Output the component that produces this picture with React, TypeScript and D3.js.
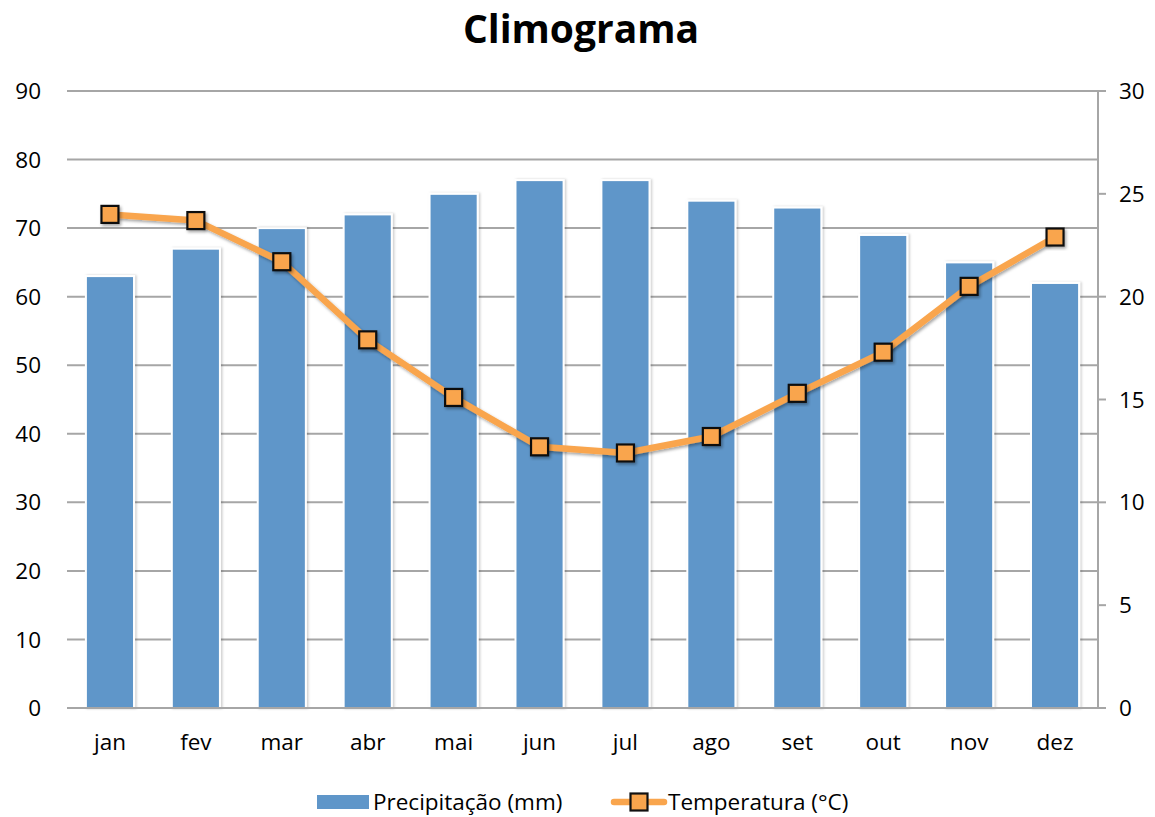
import { scaleBand, scaleLinear, line } from 'd3'

const months = ['jan', 'fev', 'mar', 'abr', 'mai', 'jun', 'jul', 'ago', 'set', 'out', 'nov', 'dez']
const precipitation = [63, 67, 70, 72, 75, 77, 77, 74, 73, 69, 65, 62]
const temperature = [24.0, 23.7, 21.7, 17.9, 15.1, 12.7, 12.4, 13.2, 15.3, 17.3, 20.5, 22.9]
const leftTicks = [0, 10, 20, 30, 40, 50, 60, 70, 80, 90]
const rightTicks = [0, 5, 10, 15, 20, 25, 30]

const W = 1155
const H = 817
const margin = { top: 91, right: 57, bottom: 109, left: 67 }
const font = '"Open Sans", sans-serif'

export default function App() {
  const innerW = W - margin.left - margin.right
  const innerH = H - margin.top - margin.bottom
  const x = scaleBand<string>().domain(months).range([0, innerW]).paddingInner(0.44).paddingOuter(0.22)
  const yL = scaleLinear().domain([0, 90]).range([innerH, 0])
  const yR = scaleLinear().domain([0, 30]).range([innerH, 0])
  const cx = (m: string) => (x(m) ?? 0) + x.bandwidth() / 2
  const pts = months.map((m, i) => [cx(m), yR(temperature[i])] as [number, number])
  const path = line()(pts) ?? ''

  return (
    <svg width={W} height={H} style={{ position: 'absolute', left: 0, top: 0, background: '#fff' }}>
      <defs>
        <filter id="sh" x="-30%" y="-30%" width="160%" height="160%">
          <feDropShadow dx="1.5" dy="2" stdDeviation="1.5" floodColor="#000" floodOpacity="0.35" />
        </filter>
        <filter id="bsh" x="-10%" y="-5%" width="120%" height="110%">
          <feDropShadow dx="1.5" dy="0" stdDeviation="1.2" floodColor="#000" floodOpacity="0.2" />
        </filter>
      </defs>
      <text x={581} y={43} textAnchor="middle" fontFamily={font} fontWeight="bold" fontSize={39} fill="#000">
        Climograma
      </text>
      <g transform={`translate(${margin.left},${margin.top})`}>
        {leftTicks.map((t) => (
          <g key={t}>
            <line x1={0} x2={innerW} y1={yL(t)} y2={yL(t)} stroke="#a6a6a6" strokeWidth={2} />
            <text x={-26} y={yL(t)} dy="0.36em" textAnchor="end" fontFamily={font} fontSize={22.5}>
              {t}
            </text>
          </g>
        ))}
        <line x1={innerW} x2={innerW} y1={0} y2={innerH} stroke="#a6a6a6" strokeWidth={2} />
        {rightTicks.map((t) => (
          <g key={t}>
            <line x1={innerW} x2={innerW + 8} y1={yR(t)} y2={yR(t)} stroke="#a6a6a6" strokeWidth={2} />
            <text x={innerW + 21} y={yR(t)} dy="0.36em" textAnchor="start" fontFamily={font} fontSize={22.5}>
              {t}
            </text>
          </g>
        ))}
        {months.map((m, i) => (
          <rect
            key={m}
            x={x(m)}
            y={yL(precipitation[i])}
            width={x.bandwidth()}
            height={innerH - yL(precipitation[i])}
            fill="#5f96c9"
            stroke="#fff"
            strokeWidth={2}
            filter="url(#bsh)"
          />
        ))}
        <line x1={0} x2={innerW} y1={innerH} y2={innerH} stroke="#a6a6a6" strokeWidth={2} />
        {months.map((m) => (
          <text key={m} x={cx(m)} y={innerH + 42} textAnchor="middle" fontFamily={font} fontSize={22.5}>
            {m}
          </text>
        ))}
        <path d={path} fill="none" stroke="#f9a54d" strokeWidth={6.5} strokeLinejoin="round" filter="url(#sh)" />
        {pts.map(([px, py], i) => (
          <rect
            key={i}
            x={px - 8.5}
            y={py - 8.5}
            width={17}
            height={17}
            fill="#f9a54d"
            stroke="#111"
            strokeWidth={2.2}
            filter="url(#sh)"
          />
        ))}
      </g>
      <g transform="translate(317,802)">
        <rect x={0} y={-7} width={52} height={14} fill="#5f96c9" />
        <text x={56} y={0} dy="0.36em" fontFamily={font} fontSize={22.5}>
          Precipitação (mm)
        </text>
        <line x1={297} x2={347} y1={0} y2={0} stroke="#f9a54d" strokeWidth={6.5} strokeLinecap="round" />
        <rect x={313.5} y={-8.5} width={17} height={17} fill="#f9a54d" stroke="#111" strokeWidth={2.2} />
        <text x={351} y={0} dy="0.36em" fontFamily={font} fontSize={22.5}>
          Temperatura (°C)
        </text>
      </g>
    </svg>
  )
}
